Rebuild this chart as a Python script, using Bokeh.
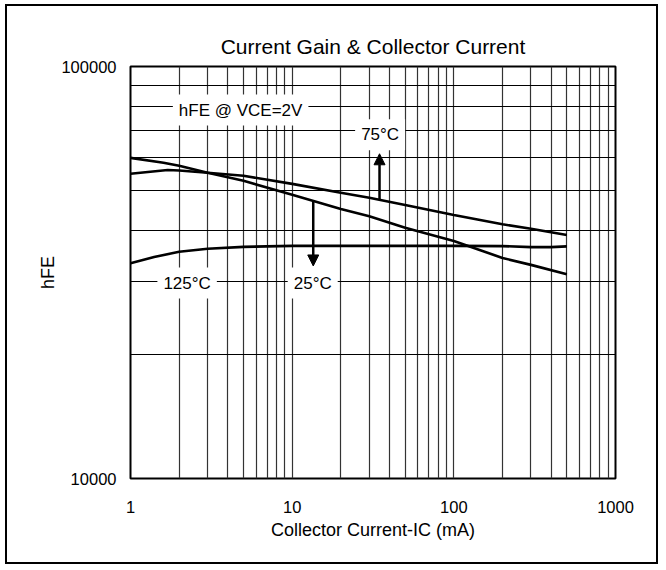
from bokeh.plotting import figure
from bokeh.models import Range1d, FixedTicker, PrintfTickFormatter, Label, Arrow, NormalHead
from bokeh.embed import file_html
from bokeh.resources import INLINE

# ---- data ----
ic_25 = [1, 1.6, 2, 3, 5, 10, 20, 30, 50, 100, 200, 300, 500]
hfe_25 = [60000, 58400, 57400, 55200, 52800, 48800, 45100, 43300, 40600, 37700, 34300, 33000, 31300]

ic_75 = [1, 1.7, 2, 3, 5, 10, 20, 30, 50, 100, 200, 300, 500]
hfe_75 = [54900, 56100, 55900, 55200, 54300, 51900, 49400, 48000, 46100, 43600, 41400, 40400, 39000]

ic_125 = [1, 1.4, 2, 3, 5, 10, 20, 50, 100, 200, 300, 400, 500]
hfe_125 = [33300, 34500, 35500, 36100, 36500, 36700, 36700, 36700, 36700, 36650, 36450, 36450, 36600]

x_major = [1, 10, 100, 1000]
x_minor = [2, 3, 4, 5, 6, 7, 8, 9, 20, 30, 40, 50, 60, 70, 80, 90, 200, 300, 400, 500, 600, 700, 800, 900]
y_major = [10000, 100000]
y_minor = [20000, 30000, 40000, 50000, 60000, 70000, 80000, 90000]

label_texts = ["hFE @ VCE=2V", "75°C", "125°C", "25°C"]
label_x = [4.8, 35.0, 2.24, 13.4]
label_y = [78400, 68300, 29800, 29800]

arrow_x = [34.7, 13.5]
arrow_y_start = [47700, 47200]
arrow_y_end = [61400, 32800]

FONT = "Liberation Sans"

p = figure(width=653, height=560, x_axis_type="log", y_axis_type="log",
           x_range=Range1d(1, 1000), y_range=Range1d(10000, 100000),
           output_backend="svg", toolbar_location=None,
           min_border_left=123, min_border_right=45, min_border_top=60, min_border_bottom=88,
           title="Current Gain & Collector Current",
           styles={"border": "2px solid black", "margin": "4px 0px 0px 5px"})

p.title.align = "center"
p.title.text_font = FONT
p.title.text_font_size = "21px"
p.title.text_font_style = "normal"
p.title.text_color = "black"
p.title.standoff = 17

p.outline_line_color = "black"
p.outline_line_width = 2
p.background_fill_color = "white"
p.border_fill_color = "white"

xt = FixedTicker(ticks=x_major, minor_ticks=x_minor)
yt = FixedTicker(ticks=y_major, minor_ticks=y_minor)
p.xaxis.ticker = xt
p.yaxis.ticker = yt
p.xgrid.ticker = xt
p.ygrid.ticker = yt

for ax in (p.xaxis[0], p.yaxis[0]):
    ax.formatter = PrintfTickFormatter(format="%d")
    ax.axis_line_color = None
    ax.major_tick_line_color = None
    ax.minor_tick_line_color = None
    ax.major_tick_out = 0
    ax.major_tick_in = 0
    ax.minor_tick_out = 0
    ax.minor_tick_in = 0
    ax.major_label_text_font = FONT
    ax.major_label_text_font_size = "16.5px"
    ax.major_label_text_color = "black"
    ax.axis_label_text_font = FONT
    ax.axis_label_text_font_size = "18px"
    ax.axis_label_text_font_style = "normal"
    ax.axis_label_text_color = "black"

p.xaxis.axis_label = "Collector Current-IC (mA)"
p.xaxis.major_label_standoff = 22
p.xaxis.axis_label_standoff = 4
p.yaxis.axis_label = "hFE"
p.yaxis.major_label_standoff = 14
p.yaxis.axis_label_standoff = 0

p.xgrid.grid_line_color = "#333333"
p.xgrid.grid_line_width = 1.2
p.xgrid.minor_grid_line_color = "#333333"
p.xgrid.minor_grid_line_width = 1.2
p.ygrid.grid_line_color = "black"
p.ygrid.grid_line_width = 1
p.ygrid.minor_grid_line_color = "black"
p.ygrid.minor_grid_line_width = 1

for xs, ys in ((ic_25, hfe_25), (ic_75, hfe_75), (ic_125, hfe_125)):
    p.line(xs, ys, line_color="black", line_width=2.6)

for xa, y0, y1 in zip(arrow_x, arrow_y_start, arrow_y_end):
    p.add_layout(Arrow(end=NormalHead(size=11, fill_color="black", line_color="black"),
                       x_start=xa, y_start=y0, x_end=xa, y_end=y1,
                       line_color="black", line_width=2.5))

for t, lx, ly in zip(label_texts, label_x, label_y):
    p.add_layout(Label(x=lx, y=ly, text=t, text_font=FONT, text_font_size="17px",
                       text_align="center", text_baseline="middle", text_color="black",
                       background_fill_color="white", padding=6))

open("out.html", "w").write(file_html(p, INLINE))
